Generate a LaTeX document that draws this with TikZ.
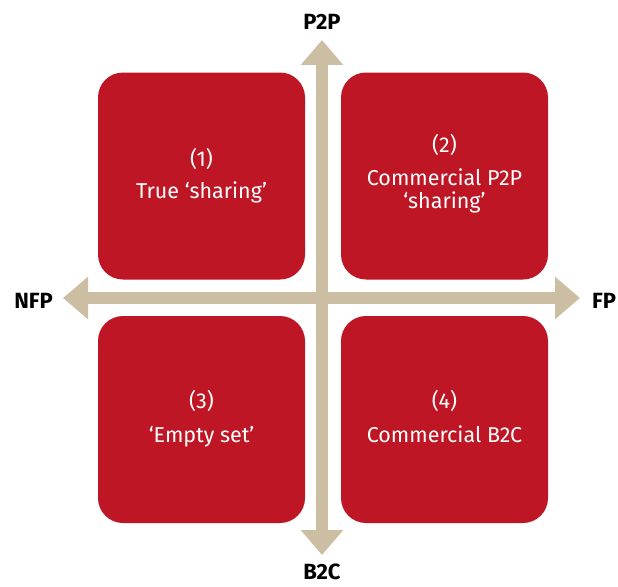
\documentclass[tikz,border=0pt]{standalone}
\usepackage{fontspec}
\setmainfont{Fira Sans}
\usetikzlibrary{arrows.meta}
\definecolor{qred}{RGB}{190,22,36}
\definecolor{qtan}{RGB}{204,190,162}
\tikzset{
  quad/.style={fill=qred, draw=none, rounded corners=25pt, minimum width=207pt, minimum height=207pt, inner sep=0pt},
  qtext/.style={text=white, font=\fontsize{21.5}{23}\selectfont, anchor=base, inner sep=0pt},
  axlabel/.style={text=black, font=\bfseries\fontsize{22}{24}\selectfont, anchor=base, inner sep=0pt, text depth=0pt},
  axis/.style={draw=qtan, line width=12pt, {Triangle[width=41pt,length=25pt]}-{Triangle[width=41pt,length=25pt]}}
}
\begin{document}
\begin{tikzpicture}[x=1pt,y=-1pt]
\useasboundingbox (0,0) rectangle (618,586);
% quadrants
\node[quad] (q1) at (201.5,176) {};
\node[quad] (q2) at (444.5,176) {};
\node[quad] (q3) at (201.5,419.5) {};
\node[quad] (q4) at (444.5,419.5) {};
% axes
\coordinate (ntip) at (322,40);
\coordinate (stip) at (322,555);
\coordinate (wtip) at (63,298);
\coordinate (etip) at (580,298);
\draw[axis] (wtip) -- (etip);
\draw[axis] (ntip) -- (stip);
% axis labels
\node[axlabel] (p2p) at (322,30) {P2P};
\node[axlabel] (b2c) at (322,579) {B2C};
\node[axlabel] (nfp) at (33.5,308) {NFP};
\node[axlabel] (fp) at (604,308) {FP};
% quadrant texts
\node[qtext] (q1a) at (201.5,166) {(1)};
\node[qtext] (q1b) at (201.5,198) {True ‘sharing’};
\node[qtext] (q2a) at (444.5,152) {(2)};
\node[qtext] (q2b) at (444.5,185) {Commercial P2P};
\node[qtext] (q2c) at (444.5,208) {‘sharing’};
\node[qtext] (q3a) at (201.5,408) {(3)};
\node[qtext] (q3b) at (201.5,442) {‘Empty set’};
\node[qtext] (q4a) at (444.5,408) {(4)};
\node[qtext] (q4b) at (444.5,442) {Commercial B2C};
\end{tikzpicture}
\end{document}
